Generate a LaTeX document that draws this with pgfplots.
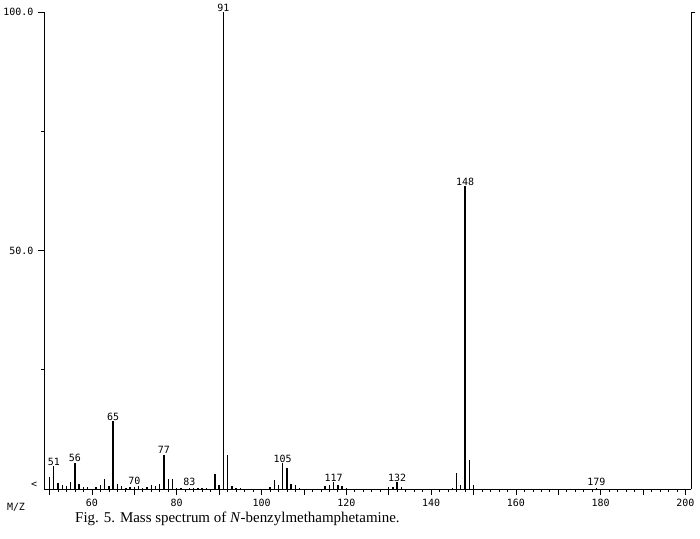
\documentclass[border=0pt]{standalone}
\usepackage{pgfplots}
\pgfplotsset{compat=1.18}
\usepackage{fontspec}
\setmainfont{Liberation Serif}
\newfontfamily\mono{DejaVu Sans Mono}
\begin{document}
\begin{tikzpicture}
\path[use as bounding box] (0,0) rectangle (700bp,539bp);
\begin{axis}[
  at={(44bp,50bp)}, anchor=south west,
  scale only axis, width=647bp, height=477bp,
  xmin=48.7, xmax=201.3, ymin=0, ymax=100,
  axis x line*=bottom, axis y line*=left,
  axis line style={-, line width=0.8bp},
  clip=false,
  tick align=outside,
  xtick={50,60,...,200},
  xticklabels={,60,,80,,100,,120,,140,,160,,180,,200},
  minor x tick num=4,
  ytick={50,100},
  yticklabels={50.0,100.0},
  minor ytick={25,75},
  major tick length=6bp, minor tick length=3bp,
  every tick/.style={black, line width=0.7bp},
  /pgf/number format/assume math mode=true,
  ticklabel style={font=\mono\fontsize{10}{12}\selectfont},
  xticklabel style={yshift=-1bp},
  yticklabel style={xshift=-1bp},
]
\addplot[ycomb, black, line width=1.4bp, no marks] coordinates {
(50,2.5) (51,4.8) (52,1.2) (53,0.8) (54,0.7) (55,1.5) (56,5.5) (57,1.0)
(58,0.5) (59,0.4) (61,0.5) (62,0.8) (63,2.2) (64,0.6) (65,14.2) (66,1.0)
(67,0.6) (68,0.3) (69,0.5) (70,0.4) (71,0.6) (72,0.3) (73,0.5) (74,0.8)
(75,0.6) (76,1.0) (77,7.2) (78,2.0) (79,2.0) (80,0.3) (81,0.2) (83,0.3)
(84,0.3) (85,0.3) (86,0.3) (87,0.2) (89,3.2) (90,0.8) (91,100) (92,7.2)
(93,0.6) (94,0.3) (95,0.3) (102,0.5) (103,1.8) (104,0.8) (105,5.4) (106,4.3)
(107,1.0) (108,0.8) (109,0.3) (115,0.6) (116,0.8) (117,1.4) (118,0.9) (119,0.6)
(120,0.3) (130,0.4) (131,0.5) (132,1.4) (133,0.4) (145,0.3) (146,3.4) (147,0.8)
(148,63.5) (149,6.0) (150,0.8) (179,0.3)
};
\draw[line width=0.8bp] (axis cs:201.3,0) -- (axis cs:201.3,100) -- (axis cs:202.3,100);
\begin{scope}[every node/.style={font=\mono\fontsize{10}{12}\selectfont, inner sep=0.5bp, anchor=south}]
\node at (axis cs:51,4.8) {51};
\node at (axis cs:56,5.5) {56};
\node at (axis cs:65,14.2) {65};
\node at (axis cs:70,0.8) {70};
\node at (axis cs:77,7.2) {77};
\node at (axis cs:83,0.6) {83};
\node at (axis cs:91,100) {91};
\node at (axis cs:105,5.4) {105};
\node at (axis cs:117,1.4) {117};
\node at (axis cs:132,1.4) {132};
\node at (axis cs:148,63.5) {148};
\node at (axis cs:179,0.6) {179};
\end{scope}
\end{axis}
\node[font=\mono\fontsize{10}{12}\selectfont] at (16bp,32bp) {M/Z};
\node[font=\mono\fontsize{10}{12}\selectfont] at (34bp,54bp) {<};
\node[anchor=base west, font=\fontsize{15}{17}\selectfont, inner sep=0pt] at (75bp,17bp) {Fig. 5. Mass spectrum of \emph{N}-benzylmethamphetamine.};
\end{tikzpicture}
\end{document}
